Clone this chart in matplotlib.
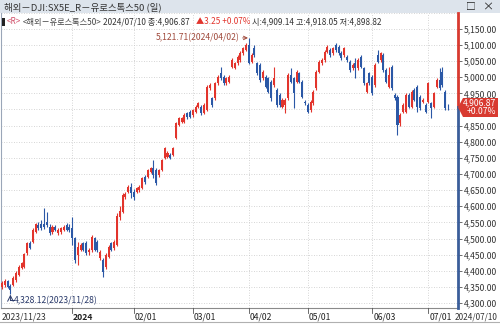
import matplotlib
matplotlib.use("Agg")
import matplotlib.pyplot as plt
import matplotlib.transforms as mtransforms
from matplotlib.patches import Rectangle, Polygon
import numpy as np
import pandas as pd

plt.rcParams['font.family'] = ['Noto Sans CJK KR', 'DejaVu Sans']

# trading days (daily candles) 2023/11/23 - 2024/07/10
holidays = ['2023-12-25', '2023-12-26', '2024-01-01', '2024-03-29', '2024-04-01']
dates = pd.bdate_range('2023-11-23', '2024-07-10').drop(pd.to_datetime(holidays))

opens = [
    4350, 4356, 4368, 4352, 4356, 4370, 4387, 4410, 4413, 4454,
    4485, 4490, 4521, 4542, 4544, 4545, 4552, 4537, 4521, 4537,
    4516, 4521, 4527, 4542, 4537, 4532, 4501, 4449, 4465, 4485,
    4485, 4458, 4465, 4501, 4490, 4439, 4434, 4413, 4444, 4485,
    4470, 4480, 4568, 4583, 4630, 4645, 4661, 4645, 4645, 4650,
    4656, 4692, 4692, 4707, 4718, 4712, 4697, 4712, 4749, 4754,
    4759, 4759, 4811, 4852, 4862, 4862, 4888, 4893, 4883, 4893,
    4909, 4909, 4890, 4899, 4966, 4935, 4935, 4981, 5012, 5002,
    4981, 4986, 5033, 5029, 5043, 5053, 5075, 5084, 5100, 5048,
    5090, 5043, 5038, 4997, 5002, 4997, 4986, 4976, 4960, 4945,
    4909, 4914, 4935, 5007, 4997, 4986, 5012, 4986, 4924, 4914,
    4898, 4919, 4966, 5017, 5043, 5053, 5079, 5084, 5074, 5100,
    5095, 5074, 5069, 5064, 5048, 5028, 5043, 5028, 5064, 5028,
    4955, 5012, 5002, 4976, 5069, 5053, 5069, 5022, 4971, 5033,
    4945, 4940, 4857, 4893, 4893, 4945, 4909, 4960, 4971, 4940,
    4924, 4914, 4924, 4919, 4909, 4971, 4991, 5017, 4955, 4909.14]
highs = [
    4368, 4374, 4372, 4358, 4383, 4398, 4418, 4428, 4455, 4490,
    4492, 4532, 4548, 4550, 4556, 4594, 4583, 4545, 4543, 4542,
    4532, 4536, 4542, 4548, 4545, 4568, 4505, 4490, 4486, 4490,
    4492, 4470, 4512, 4506, 4496, 4465, 4440, 4454, 4480, 4490,
    4495, 4578, 4600, 4640, 4645, 4666, 4671, 4652, 4660, 4666,
    4692, 4698, 4716, 4722, 4743, 4718, 4716, 4748, 4785, 4770,
    4765, 4785, 4862, 4878, 4878, 4888, 4893, 4898, 4903, 4914,
    4924, 4915, 4920, 4976, 4982, 4940, 4986, 5007, 5033, 5008,
    5002, 5007, 5058, 5048, 5068, 5080, 5094, 5105, 5121.71, 5074,
    5100, 5048, 5045, 5022, 5007, 5002, 4992, 5033, 4966, 4950,
    4935, 4935, 5012, 5028, 5002, 5022, 5017, 4992, 4930, 4920,
    4930, 4960, 5022, 5053, 5058, 5084, 5100, 5090, 5095, 5105,
    5100, 5080, 5095, 5069, 5053, 5043, 5059, 5058, 5069, 5033,
    4986, 5017, 5007, 5043, 5084, 5079, 5074, 5028, 5033, 5038,
    4950, 4945, 4890, 4919, 4950, 4950, 4960, 4966, 4976, 4945,
    4935, 4920, 4986, 4924, 4955, 4996, 5028, 5033, 4960, 4918.05]
lows = [
    4345, 4350, 4346, 4328.12, 4352, 4366, 4383, 4405, 4410, 4450,
    4467, 4485, 4517, 4527, 4526, 4530, 4535, 4510, 4515, 4522,
    4510, 4515, 4522, 4522, 4520, 4480, 4425, 4418, 4460, 4460,
    4448, 4450, 4458, 4460, 4458, 4434, 4382, 4405, 4440, 4460,
    4465, 4476, 4558, 4578, 4622, 4640, 4625, 4620, 4640, 4645,
    4652, 4670, 4688, 4702, 4687, 4665, 4692, 4708, 4745, 4750,
    4745, 4755, 4808, 4848, 4858, 4858, 4872, 4873, 4878, 4888,
    4904, 4884, 4885, 4895, 4960, 4908, 4930, 4976, 4992, 4976,
    4976, 4981, 5028, 5024, 5038, 5048, 5070, 5080, 5040, 5043,
    5064, 5007, 4986, 4992, 4966, 4950, 4925, 4970, 4908, 4908,
    4904, 4888, 4930, 4981, 4904, 4981, 4981, 4935, 4914, 4888,
    4893, 4914, 4960, 5012, 5038, 5048, 5074, 5064, 5069, 5079,
    5069, 5054, 5064, 5048, 5017, 5022, 4997, 5022, 5028, 4976,
    4950, 4976, 4945, 4971, 5043, 5048, 5017, 4981, 4966, 4960,
    4930, 4822, 4850, 4888, 4888, 4904, 4904, 4925, 4893, 4899,
    4919, 4888, 4919, 4873, 4904, 4966, 4960, 4970, 4899, 4898.82]
closes = [
    4362, 4368, 4351, 4342, 4377, 4392, 4413, 4423, 4451, 4485,
    4472, 4527, 4544, 4532, 4532, 4537, 4542, 4516, 4537, 4527,
    4527, 4532, 4537, 4527, 4527, 4501, 4434, 4475, 4480, 4465,
    4454, 4466, 4506, 4465, 4465, 4459, 4397, 4449, 4475, 4465,
    4490, 4570, 4585, 4635, 4638, 4661, 4640, 4630, 4656, 4661,
    4687, 4676, 4712, 4718, 4697, 4671, 4712, 4743, 4780, 4764,
    4749, 4780, 4857, 4873, 4873, 4883, 4878, 4878, 4898, 4909,
    4919, 4888, 4914, 4971, 4976, 4914, 4981, 5002, 4997, 4981,
    4997, 5002, 5053, 5044, 5064, 5075, 5090, 5100, 5044, 5069,
    5069, 5012, 4991, 5017, 4971, 4955, 4935, 4997, 4914, 4914,
    4930, 4930, 5007, 4986, 4950, 5017, 4986, 4940, 4919, 4893,
    4924, 4955, 5017, 5048, 5053, 5079, 5095, 5069, 5090, 5084,
    5074, 5059, 5090, 5053, 5022, 5038, 5028, 5053, 5033, 4981,
    4981, 4981, 4950, 5038, 5048, 5074, 5022, 4986, 5007, 4966,
    4935, 4852, 4883, 4914, 4945, 4909, 4955, 4930, 4909, 4904,
    4930, 4893, 4981, 4904, 4950, 4991, 4966, 4976, 4903.62, 4906.87]

month_ticks = ['2024-01-02', '2024-02-01', '2024-03-01', '2024-04-02',
               '2024-05-01', '2024-06-03', '2024-07-01']
month_labels = ['2024', '02/01', '03/01', '04/02', '05/01', '06/03', '07/01']
price_ticks = list(range(4300, 5151, 50))

UP = '#e2342c'
DOWN = '#2b58a6'
W, H = 500, 325

fig = plt.figure(figsize=(5, 3.25), dpi=100)
fig.patch.set_facecolor('white')

def fx(px):
    return px / W

def fy(py):
    return 1 - py / H

# title bar
fig.add_artist(Rectangle((0, fy(13)), 1, 13 / H, transform=fig.transFigure,
                         facecolor='#dde4ec', edgecolor='none', zorder=0))
fig.text(fx(4), fy(7), '해외－DJI:SX5E_R－유로스톡스50 (일)', fontsize=6.8,
         color='#333333', va='center', ha='left')
fig.text(fx(466), fy(7), '□', fontsize=7, color='#222222', va='center', ha='left')
fig.text(fx(482), fy(7), '×', fontsize=8, color='#222222', va='center', ha='left')

# main chart
ax = fig.add_axes([fx(1), fy(308), 457 / W, 295 / H])
x = np.arange(len(dates))
o = np.array(opens)
h = np.array(highs)
l = np.array(lows)
c = np.array(closes)
cols = [UP if cc >= oo else DOWN for oo, cc in zip(o, c)]
ax.vlines(x, l, h, colors=cols, lw=0.8, zorder=3)
body = np.maximum(np.abs(c - o), 1.5)
ax.bar(x, body, bottom=np.minimum(o, c), width=0.72, color=cols,
       edgecolor='none', zorder=4)

ax.set_xlim(-0.36, 162.57)
ax.set_ylim(4284.7, 5199)

pos = [dates.get_loc(pd.Timestamp(d)) for d in month_ticks]
for p in pos:
    ax.axvline(p, color='#c8c8c8', lw=0.6, ls=(0, (1, 2)), zorder=1)
for v in price_ticks + [5200]:
    ax.axhline(v, color='#c8c8c8', lw=0.6, ls=(0, (1, 2)), zorder=1)

ax.yaxis.tick_right()
ax.set_yticks(price_ticks)
# the 4,900 label sits under the current-price box
ax.set_yticklabels(['' if v == 4900 else f'{v:,.2f}' for v in price_ticks])
ax.tick_params(axis='y', length=3, width=0.6, pad=1, labelsize=6.2,
               labelcolor='#333333', color='#555555')
ax.set_xticks([])
for s in ['top', 'right']:
    ax.spines[s].set_visible(False)
ax.spines['bottom'].set_color('#8a8a8a')
ax.spines['bottom'].set_linewidth(0.8)
ax.spines['left'].set_color('#9aa6b8')
ax.spines['left'].set_linewidth(0.8)

# right price bar: red above current price, blue below
last = closes[-1]
tr = mtransforms.blended_transform_factory(ax.transAxes, ax.transData)
ax.plot([1, 1], [last, 5199], color='#d83a30', lw=2, transform=tr,
        clip_on=False, zorder=6)
ax.plot([1, 1], [4284.7, last], color='#3b5e9a', lw=2, transform=tr,
        clip_on=False, zorder=6)

# max / min annotations
imax = int(np.argmax(h))
imin = int(np.argmin(l))
ax.annotate(f'{h[imax]:,.2f}({dates[imax]:%Y/%m/%d})', xy=(imax - 0.3, h[imax]),
            xytext=(imax - 3.2, h[imax]), textcoords='data', fontsize=6.2,
            color='#a04a3c', ha='right', va='center', zorder=7,
            arrowprops=dict(arrowstyle='->', color='#a04a3c', lw=0.7,
                            shrinkA=0, shrinkB=0))
ax.annotate('', xy=(imin, l[imin] - 2), xytext=(imin, 4308),
            arrowprops=dict(arrowstyle='->', color='#2a3a6a', lw=0.7,
                            shrinkA=0, shrinkB=0), zorder=7)
ax.plot([imin, imin + 1.2], [4308, 4308], color='#2a3a6a', lw=0.7, zorder=7)
ax.text(imin + 1.3, 4308, f'{l[imin]:,.2f}({dates[imin]:%Y/%m/%d})',
        fontsize=6.2, color='#2a3a6a', ha='left', va='center', zorder=7)

# info line
fig.add_artist(Rectangle((fx(2), fy(26)), 2.5 / W, 8 / H, transform=fig.transFigure,
                         facecolor='#222222', edgecolor='none'))
info = [(7, '<R>', '#d0506a'),
        (23, '<해외－유로스톡스50>', '#444444'),
        (103, '2024/07/10 종:4,906.87', '#333333'),
        (196, '▲3.25 +0.07%', '#e2342c'),
        (252, '시:4,909.14 고:4,918.05 저:4,898.82', '#333333')]
for px, s, col in info:
    fig.text(fx(px), fy(22), s, fontsize=5.9, color=col, va='center', ha='left',
             family=['Noto Sans CJK KR', 'DejaVu Sans'])

# current price box
ly = fy(45 + (5100 - last) / 3.1)
box = Polygon([(fx(458), ly), (fx(463), fy(98)), (fx(498), fy(98)),
               (fx(498), fy(117)), (fx(463), fy(117))], closed=True,
              transform=fig.transFigure, facecolor='#d83a30', edgecolor='none',
              zorder=8)
fig.add_artist(box)
fig.text(fx(496), fy(103), f'{last:,.2f}', fontsize=6.2, color='white',
         ha='right', va='center', zorder=9)
pct = (closes[-1] / closes[-2] - 1) * 100
fig.text(fx(496), fy(112), f'+{pct:.2f}%', fontsize=6.2, color='white',
         ha='right', va='center', zorder=9)

# x labels
fig.text(fx(2), fy(317), f'{dates[0]:%Y/%m/%d}', fontsize=6.2, color='#333333',
         ha='left', va='center')
for p, lab in zip(pos, month_labels):
    px = 2 + 2.805 * p
    fig.add_artist(plt.Line2D([fx(px), fx(px)], [fy(308), fy(313)],
                              transform=fig.transFigure, color='#555555', lw=0.6))
    fig.text(fx(px + 1), fy(317), lab, fontsize=6.2, color='#222222', ha='left',
             va='center', fontweight='bold' if lab == '2024' else 'normal')
fig.text(fx(498), fy(317), f'{dates[-1]:%Y/%m/%d}', fontsize=5.9, color='#333333',
         ha='right', va='center')
fig.add_artist(plt.Line2D([0, 1], [fy(322), fy(322)], transform=fig.transFigure,
                          color='#b0b0b0', lw=0.8))

fig.savefig('out.png', dpi=100)
